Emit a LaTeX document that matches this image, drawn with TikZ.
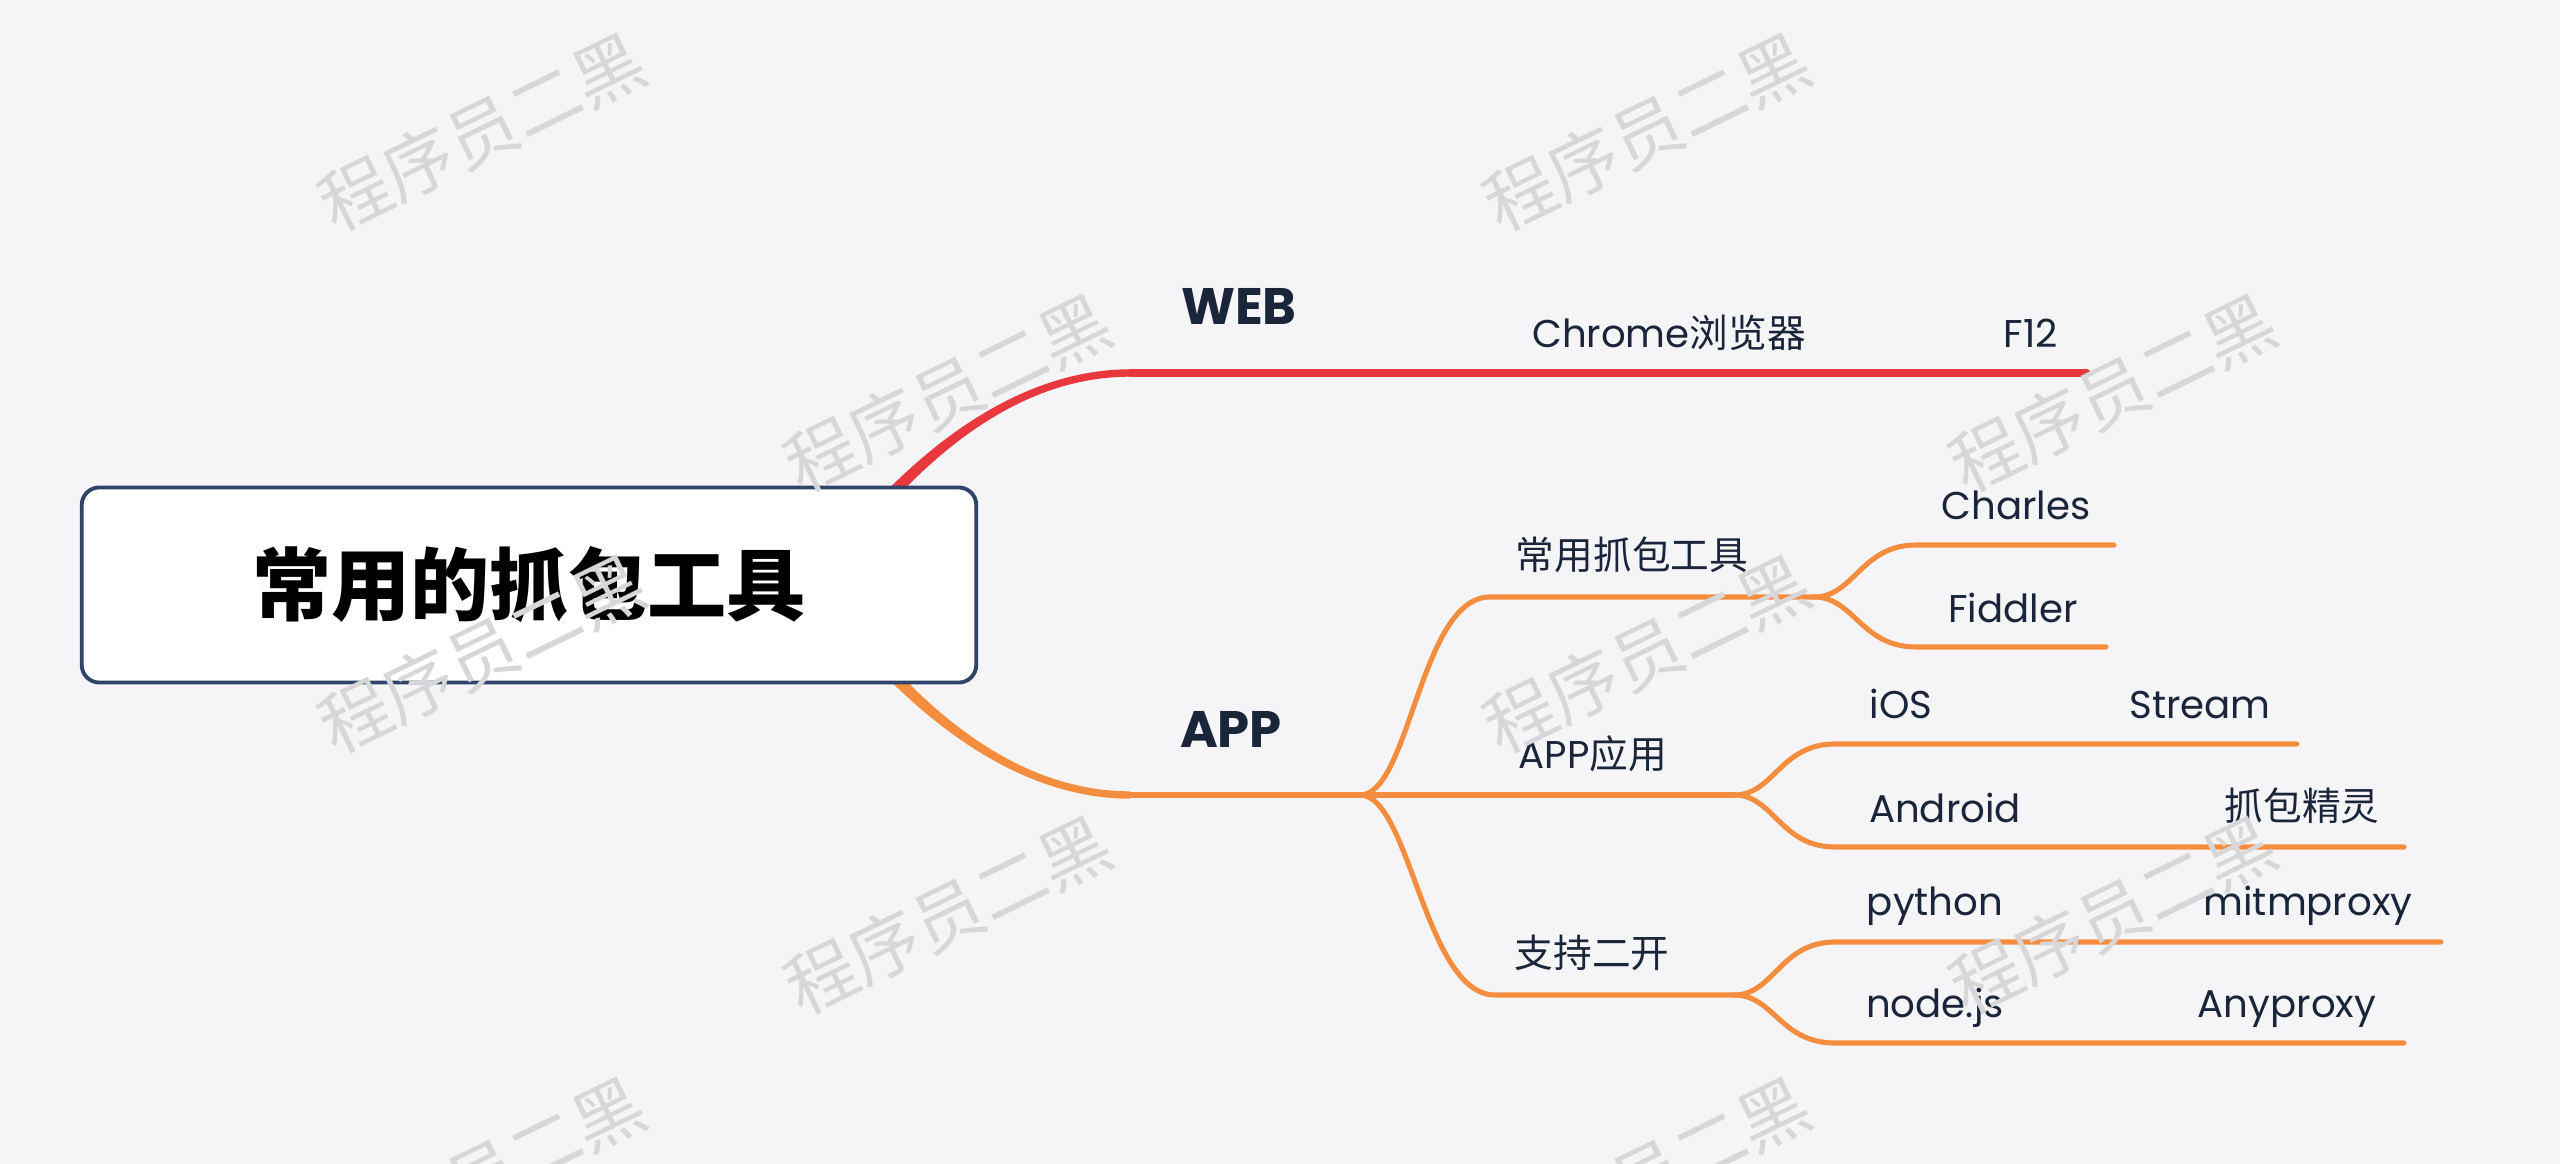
\documentclass[tikz,border=0pt]{standalone}
\usepackage{fontspec}
\setmainfont{Poppins}
\newfontfamily\cjk{Noto Sans CJK SC}
\usetikzlibrary{positioning}

\definecolor{bgcol}{HTML}{F5F5F8}
\definecolor{ink}{HTML}{1B2539}
\definecolor{navy}{HTML}{2F4468}
\definecolor{webred}{HTML}{E8383D}
\definecolor{apporange}{HTML}{F58D3F}
\definecolor{wmgray}{HTML}{D7D7D9}

\newcommand\zh[1]{{\cjk #1}}

\tikzset{
  rootbox/.style={draw=navy, line width=1.1pt, fill=white, rounded corners=5pt,
    minimum width=8.94cm, minimum height=1.95cm, text=black,
    font=\cjk\bfseries\fontsize{22.5}{26}\selectfont},
  branch/.style={text=ink, inner sep=0pt, anchor=base,
    font=\bfseries\fontsize{14.6}{16}\selectfont},
  topic/.style={text=ink, inner sep=0pt, anchor=base,
    font=\fontsize{11}{13}\selectfont},
  rline/.style={draw=webred, line width=2pt, line cap=round},
  oline/.style={draw=apporange, line width=1.7pt, line cap=round},
  subline/.style={draw=apporange, line width=1.45pt, line cap=round},
  wmark/.style={text=wmgray, rotate=26, inner sep=0pt,
    font=\cjk\fontsize{20}{22}\selectfont}
}

\begin{document}
\begin{tikzpicture}[x=0.01cm, y=-0.01cm]
    \useasboundingbox (0,0) rectangle (2560,1164);
    \fill[bgcol] (0,0) rectangle (2560,1164);

    % Tapered root branches
    \fill[webred] (773.2,635.8) .. controls (874.4,476.3) and (1000,369.3) .. (1130,369.3)
      -- (1130,376.7) .. controls (1000,376.7) and (885.6,483.7) .. (786.8,644.2) -- cycle;
    \fill[apporange] (773.2,532.2) .. controls (874.4,691.7) and (1000,798.7) .. (1130,798.7)
      -- (1130,791.3) .. controls (1000,791.3) and (885.6,684.3) .. (786.8,523.8) -- cycle;

    % WEB
    \coordinate (w1) at (1130,373);
    \coordinate (w2) at (1510,373);
    \coordinate (w3) at (1980,373);
    \coordinate (w4) at (2087,373);
    \draw[rline] (w1) -- (w2) -- (w3) -- (w4);

    % APP
    \coordinate (a1) at (1130,795);
    \coordinate (f1) at (1360,795);
    \coordinate (c1) at (1490,597);
    \coordinate (f2) at (1814,597);
    \coordinate (ch) at (1916,545);
    \coordinate (chE) at (2114,545);
    \coordinate (fi) at (1916,647);
    \coordinate (fiE) at (2106,647);
    \coordinate (f4) at (1734,795);
    \coordinate (io) at (1835,744);
    \coordinate (st) at (2108,744);
    \coordinate (stE) at (2297,744);
    \coordinate (an) at (1835,847);
    \coordinate (jl) at (2200,847);
    \coordinate (jlE) at (2404,847);
    \coordinate (z1) at (1495,995);
    \coordinate (f3) at (1734,995);
    \coordinate (py) at (1835,942);
    \coordinate (mi) at (2150,942);
    \coordinate (miE) at (2441,942);
    \coordinate (nd) at (1835,1043);
    \coordinate (ay) at (2150,1043);
    \coordinate (ayE) at (2404,1043);

    \draw[oline] (a1) -- (f1);
    \draw[subline] (f1) .. controls +(50,0) and +(-70,0) .. (c1) -- (f2);
    \draw[subline] (f1) -- (f4);
    \draw[subline] (f1) .. controls +(50,0) and +(-70,0) .. (z1) -- (f3);
    % second level
    \draw[subline] (f2) .. controls +(40,0) and +(-55,0) .. (ch) -- (chE);
    \draw[subline] (f2) .. controls +(40,0) and +(-55,0) .. (fi) -- (fiE);
    \draw[subline] (f4) .. controls +(40,0) and +(-55,0) .. (io) -- (st) -- (stE);
    \draw[subline] (f4) .. controls +(40,0) and +(-55,0) .. (an) -- (jl) -- (jlE);
    \draw[subline] (f3) .. controls +(40,0) and +(-55,0) .. (py) -- (mi) -- (miE);
    \draw[subline] (f3) .. controls +(40,0) and +(-55,0) .. (nd) -- (ay) -- (ayE);

    % Root
    \node[rootbox] (root) at (529,585) {常用的抓包工具};

    % Labels
    \node[branch] (web) at (1239,325) {WEB};
    \node[branch] (app) at (1231,747) {APP};
    \node[topic] (chrome) at (1669,348) {Chrome\zh{浏览器}};
    \node[topic] (f12) at (2031,348) {F12};
    \node[topic] (tools) at (1632,570) {\zh{常用抓包工具}};
    \node[topic] (charles) at (2016,520) {Charles};
    \node[topic] (fiddler) at (2013,623) {Fiddler};
    \node[topic] (appuse) at (1593,768) {APP\zh{应用}};
    \node[topic] (ios) at (1901,718) {iOS};
    \node[topic] (stream) at (2200,718) {Stream};
    \node[topic] (android) at (1945,822) {Android};
    \node[topic] (sprite) at (2302,820) {\zh{抓包精灵}};
    \node[topic] (dev) at (1592,967) {\zh{支持二开}};
    \node[topic] (python) at (1935,915) {python};
    \node[topic] (mitm) at (2308,915) {mitmproxy};
    \node[topic] (nodejs) at (1935,1017) {node.js};
    \node[topic] (anyproxy) at (2287,1017) {Anyproxy};

    % Watermarks
    \foreach \x/\y [count=\i] in {482/132, 1647/132, 948/393, 2113/393, 482/654,
        1647/654, 948/915, 2113/915, 482/1176, 1647/1176}
      \node[wmark] (wm\i) at (\x,\y) {程序员二黑};
\end{tikzpicture}
\end{document}
